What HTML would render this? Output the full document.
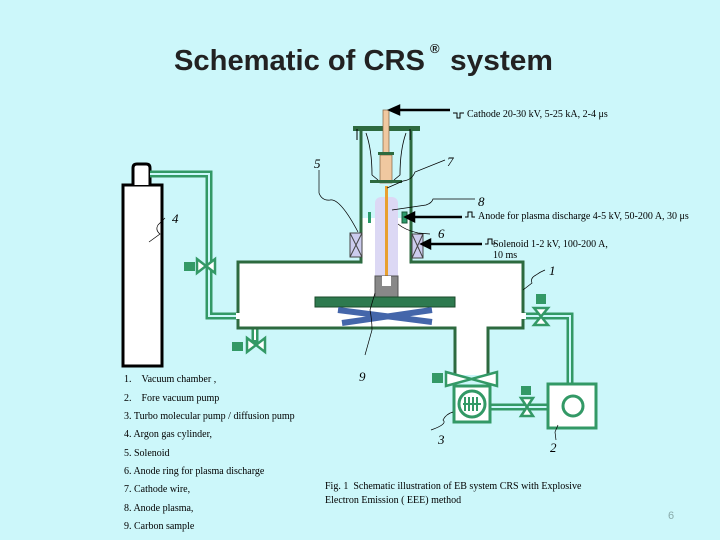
<!DOCTYPE html>
<html><head><meta charset="utf-8"><style>
body{margin:0;background:#ccf7fa;}
svg{display:block}
.s{font-family:"Liberation Serif",serif;font-size:10px;fill:#000}
.n{font-family:"Liberation Serif",serif;font-style:italic;font-size:13px;fill:#000}
</style></head><body>
<svg width="720" height="540" viewBox="0 0 720 540" xmlns="http://www.w3.org/2000/svg">
<rect width="720" height="540" fill="#ccf7fa"/>
<text x="174" y="70" font-family="Liberation Sans,sans-serif" font-size="29" font-weight="bold" fill="#222" textLength="251" lengthAdjust="spacingAndGlyphs">Schematic of CRS</text>
<text x="430" y="53" font-family="Liberation Sans,sans-serif" font-size="13" font-weight="bold" fill="#222">®</text>
<text x="450" y="70" font-family="Liberation Sans,sans-serif" font-size="29" font-weight="bold" fill="#222" textLength="103" lengthAdjust="spacingAndGlyphs">system</text>

<rect x="123" y="185" width="39" height="181" fill="#fff" stroke="#000" stroke-width="3"/>
<path d="M133 185 V168 Q133 164 137 164 H146 Q150 164 150 168 V185" fill="#fff" stroke="#000" stroke-width="3"/>
<g fill="none" stroke="#339966" stroke-width="7">
<path d="M150 174 H209 V316 H238"/>
<path d="M523 316 H570 V383"/>
<path d="M490 407 H547"/>
</g>
<g fill="none" stroke="#ccf7fa" stroke-width="2">
<path d="M150 174 H209 V316 H238"/>
<path d="M523 316 H570 V383"/>
<path d="M490 407 H547"/>
</g>
<path d="M255 328 V345" stroke="#339966" stroke-width="7"/>
<path d="M255 328 V340" stroke="#fff" stroke-width="2"/>
<rect x="238" y="262" width="285" height="66" fill="#fff"/>
<rect x="455" y="326" width="33" height="49" fill="#fff"/>
<rect x="361" y="130" width="50" height="134" fill="#ccf7fa"/>
<rect x="362" y="218" width="48" height="50" fill="#fff"/>
<path d="M361 130 V262 H238 V328 H455 V375" fill="none" stroke="#2d6a3f" stroke-width="3"/>
<path d="M411 130 V262 H523 V328 H488 V375" fill="none" stroke="#2d6a3f" stroke-width="3"/>
<rect x="236" y="313" width="6" height="6" fill="#fff"/>
<rect x="520" y="313" width="6" height="6" fill="#fff"/>
<rect x="353" y="126" width="67" height="5" fill="#2d6a3f"/>
<rect x="383" y="110" width="6" height="45" fill="#f0c8a0" stroke="#806040" stroke-width=".7"/>
<rect x="380" y="155" width="12" height="28" fill="#f0c8a0" stroke="#806040" stroke-width=".7"/>
<rect x="378" y="152" width="16" height="3" fill="#2d6a3f"/>
<rect x="370" y="180" width="32" height="3" fill="#2d6a3f"/>
<path d="M366 133 Q372 150 372 175 L378 180 M406 133 Q400 150 400 175 L394 180" fill="none" stroke="#000" stroke-width=".8"/>
<line x1="357" y1="129" x2="357" y2="140" stroke="#000"/>
<line x1="410" y1="129" x2="410" y2="140" stroke="#000"/>
<rect x="375" y="197" width="23" height="95" rx="6" fill="#dcd8f4"/>
<line x1="386.5" y1="186" x2="386.5" y2="284" stroke="#e8a030" stroke-width="3"/>
<rect x="368" y="212" width="3" height="11" fill="#2a9a6a"/>
<rect x="402" y="212" width="5" height="11" fill="#2a9a6a" stroke="#1a5a3a"/>
<g fill="#ccccee" stroke="#444" stroke-width="1">
<rect x="350" y="233" width="12" height="24"/><path d="M350 233 L362 257 M362 233 L350 257"/>
<rect x="412" y="234" width="11" height="24"/><path d="M412 234 L423 258 M423 234 L412 258"/>
</g>
<path d="M375 276 H398 V298 H375 Z" fill="#888" stroke="#555"/>
<rect x="382" y="276" width="9" height="10" fill="#fff"/>
<rect x="315" y="297" width="140" height="10" fill="#2e7a4f" stroke="#1a4a2a"/>
<path d="M338 310 L432 322 M342 323 L432 310" stroke="#4466aa" stroke-width="6"/>
<g fill="#fff" stroke="#339966" stroke-width="2.5">
<path d="M197 259 L215 273 L215 259 L197 273 Z"/>
<path d="M247 338 L265 352 L265 338 L247 352 Z"/>
<path d="M534 308 L548 325 L534 325 L548 308 Z"/>
<path d="M446 372 L497 386 L497 372 L446 386 Z"/>
<path d="M521 398 L533 416 L521 416 L533 398 Z"/>
</g>
<g fill="#339966">
<rect x="184" y="262" width="11" height="9"/>
<rect x="232" y="342" width="11" height="9"/>
<rect x="536" y="294" width="10" height="10"/>
<rect x="432" y="373" width="11" height="10"/>
<rect x="521" y="386" width="10" height="9"/>
</g>
<rect x="454" y="386" width="36" height="36" fill="#fff" stroke="#339966" stroke-width="3"/>
<circle cx="472" cy="404" r="13" fill="#fff" stroke="#339966" stroke-width="3"/>
<path d="M465 397 V411 M469 397 V411 M473 397 V411 M477 397 V411 M463 404 H481" stroke="#339966" stroke-width="2"/>
<rect x="548" y="384" width="48" height="44" fill="#fff" stroke="#339966" stroke-width="3"/>
<circle cx="573" cy="406" r="10" fill="#fff" stroke="#339966" stroke-width="3"/>
<g stroke="#000" stroke-width="2.5" fill="#000">
<line x1="395" y1="110" x2="450" y2="110"/><path d="M390 110 L399 106 L399 114Z"/>
<line x1="410" y1="217" x2="462" y2="217"/><path d="M406 217 L414 213 L414 221Z"/>
<line x1="426" y1="244" x2="482" y2="244"/><path d="M422 244 L430 240 L430 248Z"/>
</g>
<path d="M453 113 h4 v5 h3 v-5 h4" fill="none" stroke="#000"/>
<path d="M465 217 h3 v-5 h4 v5 h3" fill="none" stroke="#000"/>
<path d="M485 244 h3 v-5 h4 v5 h3" fill="none" stroke="#000"/>
<text class="s" x="467" y="117" font-size="9">Cathode 20-30 kV, 5-25 kA, 2-4 μs</text>
<text class="s" x="478" y="219" font-size="9">Anode for plasma discharge 4-5 kV, 50-200 A, 30 μs</text>
<text class="s" x="493" y="247" font-size="9">Solenoid 1-2 kV, 100-200 A,</text>
<text class="s" x="493" y="258" font-size="9">10 ms</text>
<g fill="none" stroke="#000" stroke-width=".7">
<path d="M319 170 V193 Q322 201 330 200 Q340 198 358 232"/>
<path d="M445 160 L415 172 Q412 180 403 181 L387 188"/>
<path d="M475 199 H433 Q432 203 426 205 L392 210"/>
<path d="M398 224 Q405 230 418 233 L430 234"/>
<path d="M165 218 L158 225 Q155 230 160 234 L149 242"/>
<path d="M545 270 Q540 272 536 275 Q530 278 532 283 L523 290"/>
<path d="M375 293 L370 310 Q372 320 372 330 L365 355"/>
<path d="M453 412 Q446 414 443 420 Q448 424 431 430"/>
<path d="M558 425 L555 432 L556 440"/>
</g>
<g class="n">
<text x="314" y="168">5</text><text x="447" y="166">7</text><text x="478" y="206">8</text>
<text x="172" y="223">4</text><text x="438" y="238">6</text><text x="549" y="275">1</text>
<text x="359" y="381">9</text><text x="438" y="444">3</text><text x="550" y="452">2</text>
</g>
<g class="s">
<text x="124" y="382">1.&#160;&#160;&#160;&#160;Vacuum chamber ,</text>
<text x="124" y="401">2.&#160;&#160;&#160;&#160;Fore vacuum pump</text>
<text x="124" y="419">3. Turbo molecular pump / diffusion pump</text>
<text x="124" y="437">4. Argon gas cylinder,</text>
<text x="124" y="456">5. Solenoid</text>
<text x="124" y="474">6. Anode ring for plasma discharge</text>
<text x="124" y="492">7. Cathode wire,</text>
<text x="124" y="511">8. Anode plasma,</text>
<text x="124" y="529">9. Carbon sample</text>
</g>
<text class="s" x="325" y="489" font-size="11.5">Fig. 1&#160;&#160;Schematic illustration of EB system CRS&#160;with Explosive</text>
<text class="s" x="325" y="503" font-size="11.5">Electron Emission ( EEE) method</text>
<text x="668" y="519" font-family="Liberation Sans,sans-serif" font-size="11" fill="#8aa">6</text>
</svg>
</body></html>
